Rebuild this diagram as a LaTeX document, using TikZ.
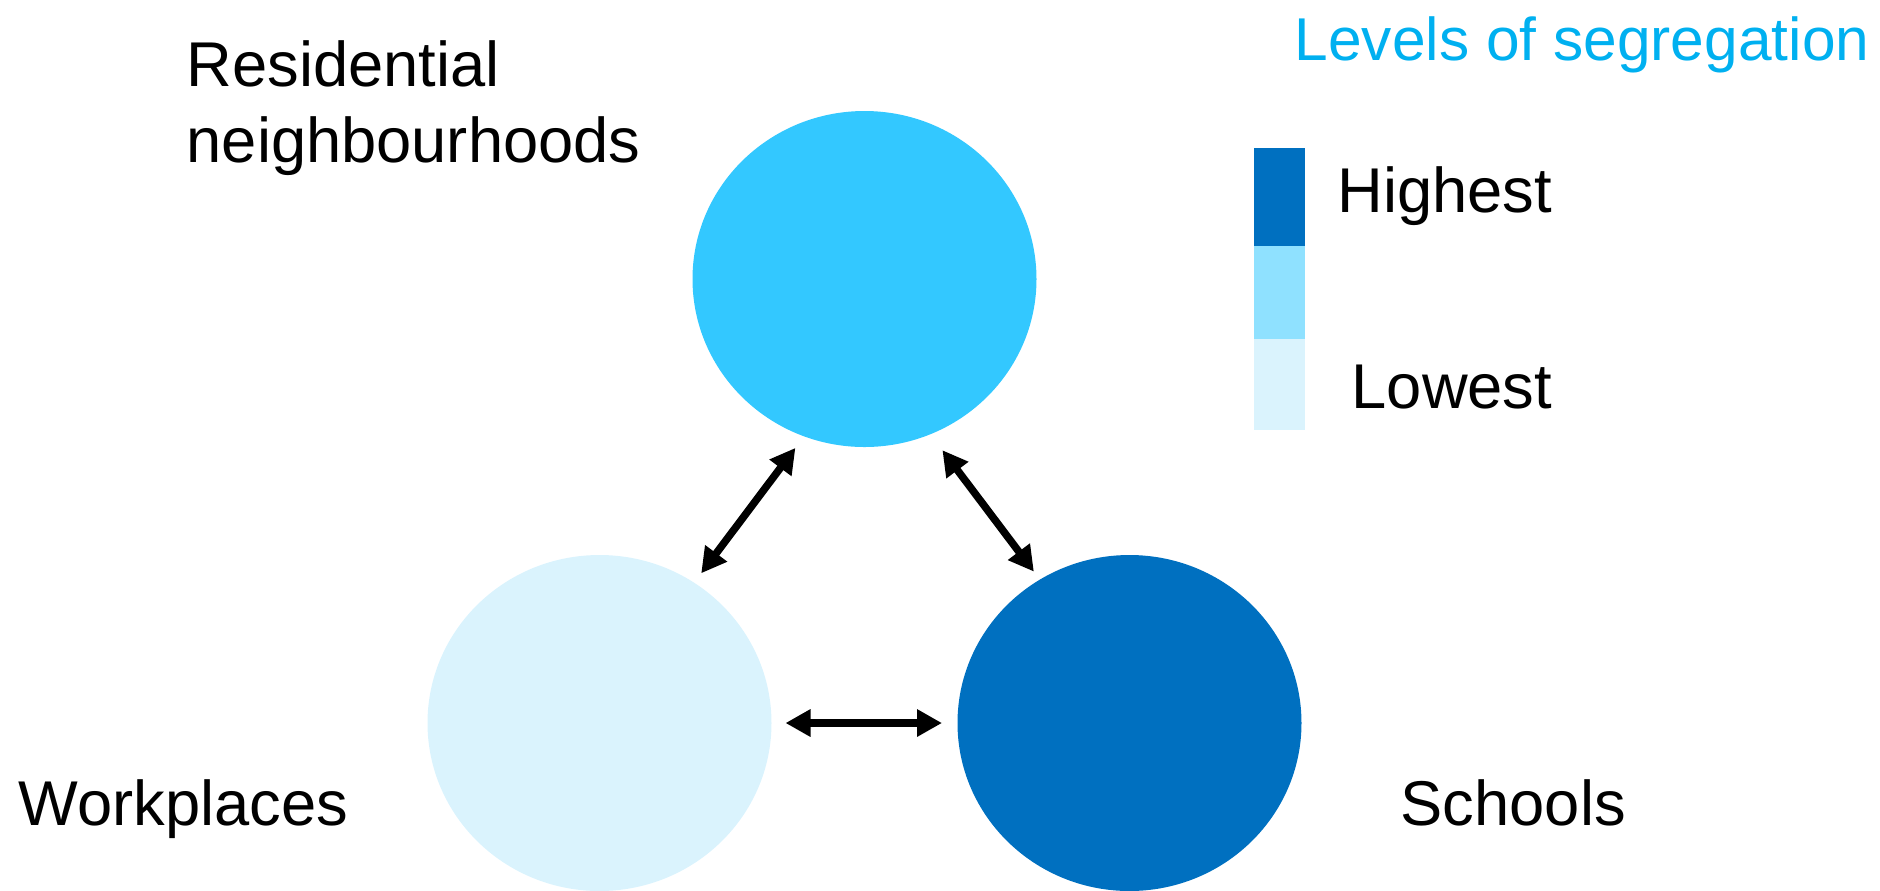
\documentclass[tikz,border=0pt]{standalone}
\usepackage{fontspec}
\setmainfont{Liberation Sans}
\usetikzlibrary{arrows.meta,shapes.geometric}

\definecolor{resblue}{RGB}{51,200,255}
\definecolor{schooldark}{RGB}{0,112,192}
\definecolor{midblue}{RGB}{143,225,255}
\definecolor{worklight}{RGB}{218,243,253}
\definecolor{titleblue}{RGB}{0,176,240}

\begin{document}
\begin{tikzpicture}[x=0.1mm,y=-0.1mm,
    place/.style={ellipse,minimum width=34.4mm,minimum height=33.6mm,inner sep=0pt,outer sep=0pt},
    link/.style={{Triangle[length=2.5mm,width=2.6mm]}-{Triangle[length=2.5mm,width=2.6mm]},line width=0.75mm},
    lbl/.style={font=\fontsize{18pt}{21.5pt}\selectfont,inner sep=0pt}]
    \useasboundingbox (0,0) rectangle (1880,890);

    % Draw the three places
    \node[place,fill=resblue] (res) at (864.5,279) {};
    \node[place,fill=worklight] (work) at (599.5,723) {};
    \node[place,fill=schooldark] (school) at (1129.5,723) {};

    % Draw the arrows between the places
    \draw[link,shorten <=1.45mm,shorten >=1.18mm] (res.249.6) -- (work.56.15);
    \draw[link,shorten <=2mm,shorten >=1mm] (res.293.3) -- (school.122.4);
    \draw[link,shorten <=1.4mm,shorten >=1.55mm] (work.east) -- (school.west);

    % Draw the labels of the places
    \node[lbl,anchor=base west,align=left] (reslabel) at (186,162) {Residential\\neighbourhoods};
    \node[lbl,anchor=base west] (worklabel) at (18,825) {Workplaces};
    \node[lbl,anchor=base west] (schoollabel) at (1400,825) {Schools};

    % Draw the legend
    \node[lbl,anchor=base west,text=titleblue,font=\fontsize{17.2pt}{20pt}\selectfont] (title) at (1294,60) {Levels of segregation};
    \foreach \ytop/\ybot/\col in {147.5/245.8/schooldark, 245.8/339.3/midblue, 339.3/430.4/worklight} {
        \fill[\col] (1254,\ytop) rectangle (1304.5,\ybot);
    }
    \node[lbl,anchor=base west] (highest) at (1337,212) {Highest};
    \node[lbl,anchor=base west] (lowest) at (1351,408) {Lowest};
\end{tikzpicture}
\end{document}
